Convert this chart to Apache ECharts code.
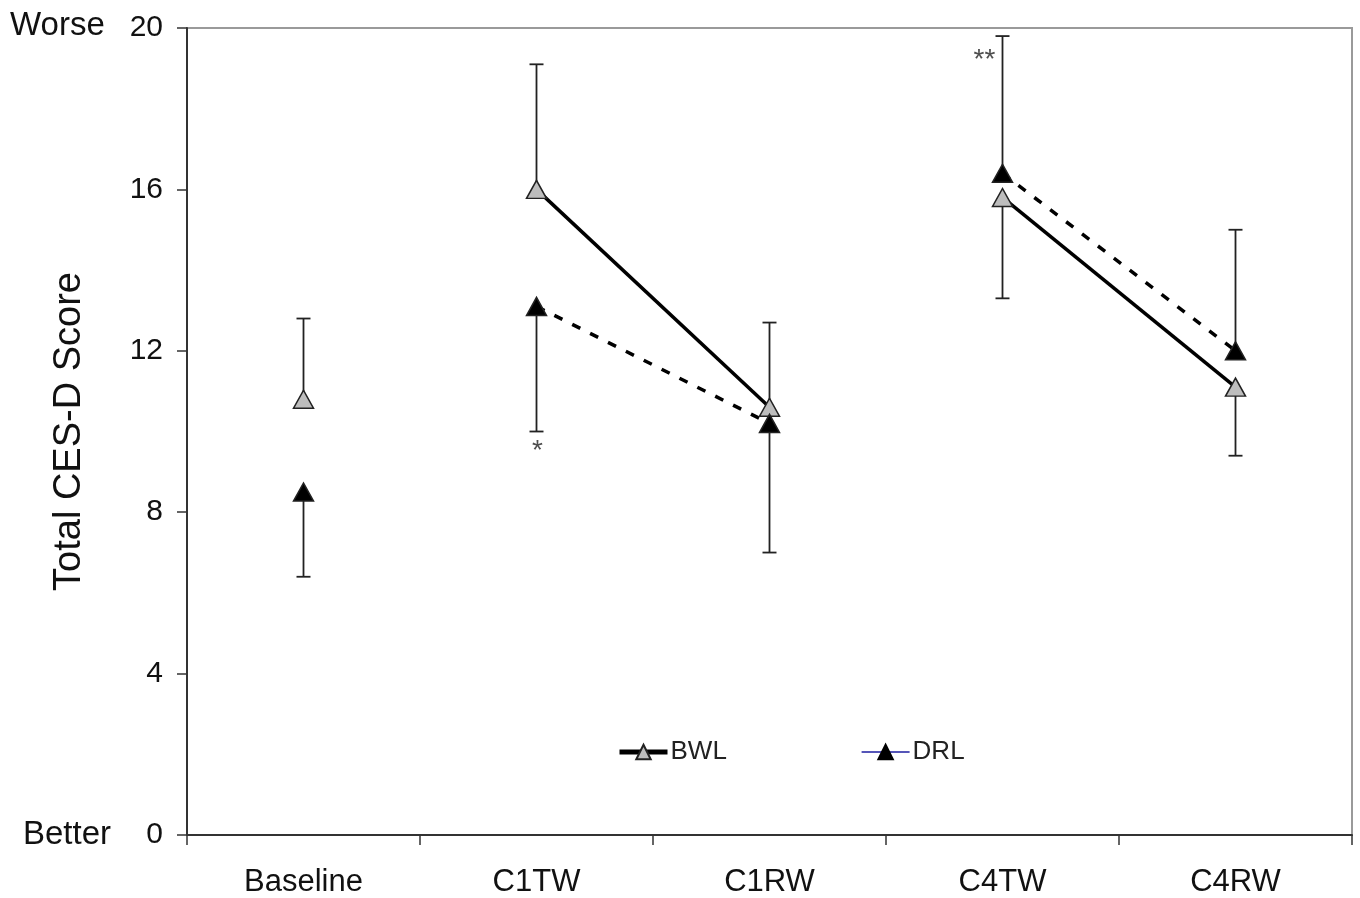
<!DOCTYPE html>
<html>
<head>
<meta charset="utf-8">
<title>Total CES-D Score</title>
<script src="https://cdn.jsdelivr.net/npm/echarts@6/dist/echarts.min.js"></script>
<style>
  html, body { margin: 0; padding: 0; background: #fff; }
  #chart { width: 1360px; height: 898px; }
</style>
</head>
<body>
<div id="chart"></div>
<script>
// 数据
var categories = ['Baseline', 'C1TW', 'C1RW', 'C4TW', 'C4RW'];
var bwlMean = [10.8, 16.0, 10.6, 15.8, 11.1];
var drlMean = [8.5, 13.1, 10.2, 16.4, 12.0];
// 误差线的端点 (单侧)
var bwlErrEnd = [12.8, 19.1, 12.7, 13.3, 9.4];
var drlErrEnd = [6.4, 10.0, 7.0, 19.8, 15.0];
// 连线的时间段 (下标)
var segments = [[1, 2], [3, 4]];
var yTicks = [0, 4, 8, 12, 16, 20];
// 显著性标记
var marks = [['C1TW', 9.5, '*', 1], ['C4TW', 19.2, '**', -18]];

var FONT = 'Liberation Sans, Arial, sans-serif';

window.onload = function() {
    draw_chart();
}

function errorSeries(mean, ends) {
    var data = categories.map(function(c, i) { return [i, mean[i], ends[i]]; });
    return {
        type: 'custom',
        silent: true,
        z: 1,
        data: data,
        renderItem: function(params, api) {
            var p0 = api.coord([api.value(0), api.value(1)]);
            var p1 = api.coord([api.value(0), api.value(2)]);
            var st = { stroke: '#222', lineWidth: 1.8 };
            return {
                type: 'group',
                children: [
                    { type: 'line', shape: { x1: p0[0], y1: p0[1], x2: p1[0], y2: p1[1] }, style: st },
                    { type: 'line', shape: { x1: p1[0] - 7, y1: p1[1], x2: p1[0] + 7, y2: p1[1] }, style: st }
                ]
            };
        }
    };
}

function segmentSeries(mean, dashed) {
    return segments.map(function(s) {
        return {
            type: 'line',
            silent: true,
            z: 2,
            symbol: 'none',
            lineStyle: { color: '#000', width: 3.5, type: dashed ? [9, 11] : 'solid' },
            data: s.map(function(i) { return [categories[i], mean[i]]; })
        };
    });
}

function markerSeries(mean, fill) {
    return {
        type: 'scatter',
        z: 3,
        symbol: 'triangle',
        symbolSize: [20, 18],
        itemStyle: { color: fill, borderColor: '#222', borderWidth: 1.5, opacity: 1 },
        data: mean.map(function(v, i) { return [categories[i], v]; })
    };
}

function draw_chart() {
    var myChart = echarts.init(document.getElementById('chart'));
    var series = [];
    series.push(errorSeries(bwlMean, bwlErrEnd));
    series.push(errorSeries(drlMean, drlErrEnd));
    series = series.concat(segmentSeries(bwlMean, false));
    series = series.concat(segmentSeries(drlMean, true));
    series.push(markerSeries(bwlMean, '#bdbdbd'));
    series.push(markerSeries(drlMean, '#000'));
    // 图例用的空系列
    series.push({
        name: 'BWL', type: 'line', data: [],
        symbol: 'triangle', symbolSize: [18, 16],
        lineStyle: { color: '#000', width: 5 },
        itemStyle: { color: '#bdbdbd', borderColor: '#222', borderWidth: 1.5 }
    });
    series.push({
        name: 'DRL', type: 'line', data: [],
        symbol: 'triangle', symbolSize: [18, 16],
        lineStyle: { color: '#1c1ca0', width: 1.5 },
        itemStyle: { color: '#000', borderColor: '#000', borderWidth: 1 }
    });
    // 星号
    series.push({
        type: 'scatter', silent: true, z: 4,
        symbolSize: 0,
        data: marks.map(function(m) { return { value: [m[0], m[1]], label: { formatter: m[2], offset: [m[3], 0] } }; }),
        label: { show: true, position: 'inside', fontFamily: FONT, fontSize: 28, color: '#222' }
    });

    var option = {
        animation: false,
        textStyle: { fontFamily: FONT },
        grid: {
            left: 187, right: 8, top: 28, bottom: 62,
            show: true, borderColor: '#9a9a9a', borderWidth: 2, backgroundColor: 'transparent'
        },
        legend: {
            data: [
                { name: 'BWL', lineStyle: { color: '#000', width: 5 } },
                { name: 'DRL', lineStyle: { color: '#1c1ca0', width: 1.5 } }
            ],
            left: 612, top: 734,
            itemWidth: 48, itemHeight: 18,
            itemGap: 134,
            textStyle: { fontFamily: FONT, fontSize: 26, color: '#222', padding: [0, 0, 0, -2] }
        },
        xAxis: {
            type: 'category',
            data: categories,
            boundaryGap: true,
            axisLine: { lineStyle: { color: '#333', width: 2 } },
            axisTick: { show: true, length: 10, lineStyle: { color: '#333', width: 1.5 } },
            axisLabel: { fontFamily: FONT, fontSize: 31, color: '#111', margin: 32 },
            splitLine: { show: false }
        },
        yAxis: {
            type: 'value',
            min: yTicks[0], max: yTicks[yTicks.length - 1], interval: 4,
            name: 'Total CES-D Score',
            nameLocation: 'middle',
            nameGap: 98,
            nameTextStyle: { fontFamily: FONT, fontSize: 38, color: '#111' },
            axisLine: { show: true, lineStyle: { color: '#333', width: 2 } },
            axisTick: { show: true, length: 10, lineStyle: { color: '#333', width: 1.5 } },
            axisLabel: { fontFamily: FONT, fontSize: 30, color: '#111', margin: 24 },
            splitLine: { show: false }
        },
        graphic: [
            { type: 'text', left: 10, top: 9, style: { text: 'Worse', font: '33px ' + FONT, fill: '#111' } },
            { type: 'text', left: 23, top: 818, style: { text: 'Better', font: '33px ' + FONT, fill: '#111' } }
        ],
        series: series
    };

    myChart.setOption(option);
}
</script>
</body>
</html>
